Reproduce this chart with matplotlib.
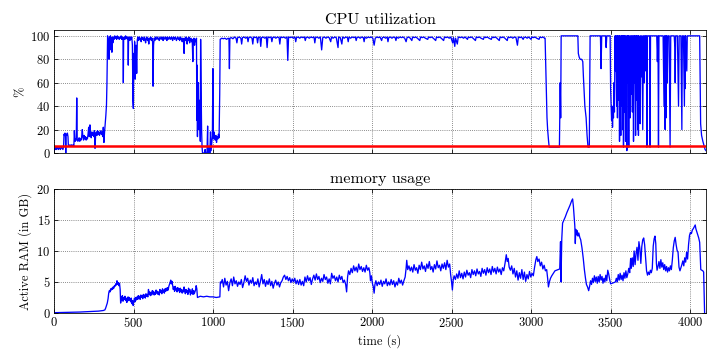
import numpy as np
import matplotlib
matplotlib.use("Agg")
import matplotlib.pyplot as plt

# CPU utilization (%) as (time s, value) pairs
cpu_start = [(0, 2), (4, 4), (8, 3), (12, 5), (16, 3), (20, 4), (24, 5), (28, 3), (32, 4), (36, 5),
             (40, 3), (44, 4), (48, 5), (52, 4), (56, 3), (60, 5), (63, 16), (66, 15), (69, 17),
             (72, 14), (74, 0), (76, 16), (80, 15), (84, 17), (88, 14), (90, 7), (95, 6), (100, 7),
             (105, 6), (110, 7), (115, 6), (120, 7), (125, 6)]
cpu_ramp = [(128, 19), (131, 11), (134, 10), (137, 12), (140, 11), (143, 47), (146, 12), (150, 10),
            (154, 11), (158, 13), (162, 10), (166, 12), (170, 11), (174, 14), (178, 20), (182, 13),
            (186, 11), (190, 15), (194, 12), (198, 14), (202, 11), (206, 13), (210, 12), (214, 16),
            (218, 22), (222, 14), (226, 24), (230, 16), (234, 13), (238, 18), (242, 15), (246, 17),
            (250, 14), (254, 19), (258, 4), (262, 16), (266, 18), (270, 15), (274, 19), (278, 16),
            (282, 18), (286, 15), (290, 17), (294, 19), (298, 16), (302, 18), (306, 14), (310, 22),
            (314, 9), (318, 18), (322, 25), (326, 32), (330, 41), (333, 60)]
cpu_busy1 = [(337, 100), (340, 85), (343, 97), (346, 80), (349, 99), (352, 88), (355, 100), (358, 90),
             (361, 98), (364, 86), (367, 99), (370, 94), (374, 99), (378, 97), (382, 100), (386, 98),
             (390, 99), (394, 97), (398, 100), (402, 98), (406, 99), (410, 97), (414, 99), (418, 98),
             (422, 100), (426, 97), (430, 99), (434, 98), (436, 60), (438, 98), (442, 99), (446, 97),
             (450, 100), (454, 98), (458, 99), (462, 97), (465, 99), (467, 75), (469, 98), (473, 99),
             (477, 96), (481, 99), (485, 97), (489, 99), (493, 92), (496, 45), (499, 38), (501, 85),
             (504, 65), (507, 95), (510, 63), (513, 70), (516, 92), (520, 68), (524, 97), (528, 99),
             (532, 96), (536, 99), (540, 97), (544, 98), (548, 95), (552, 99), (556, 97), (560, 98),
             (564, 96), (568, 99), (572, 97), (576, 94), (580, 98), (584, 99), (588, 96), (592, 98),
             (596, 93), (600, 98), (604, 97), (608, 99), (612, 96), (616, 98), (620, 95), (623, 57),
             (626, 92), (630, 98), (634, 96), (638, 99), (642, 97), (646, 98), (650, 99), (654, 97),
             (658, 98), (662, 96), (666, 99), (670, 98), (674, 97), (678, 99), (682, 98), (686, 96),
             (690, 99), (694, 98), (698, 97), (702, 99), (706, 98), (710, 96), (714, 99), (718, 98),
             (722, 97), (726, 99), (730, 98), (734, 97), (738, 99), (742, 98), (746, 96), (750, 99),
             (754, 98), (758, 97), (762, 99), (766, 98), (770, 96), (774, 98), (778, 99), (782, 97),
             (786, 98), (790, 96), (794, 99), (798, 97), (802, 98), (806, 95), (810, 98), (814, 97),
             (818, 85), (821, 98), (825, 96), (829, 99), (833, 97), (837, 93), (841, 98), (845, 96),
             (849, 99), (853, 94), (857, 97), (861, 98), (865, 95), (869, 97), (873, 78), (876, 96),
             (880, 98), (884, 92), (888, 97), (892, 95), (896, 98)]
cpu_stall = [(898, 28), (900, 75), (902, 14), (904, 55), (906, 40), (908, 60), (910, 30), (912, 20),
             (915, 45), (918, 25), (920, 10), (922, 97), (925, 60), (928, 20), (931, 5), (934, 0),
             (938, 0), (942, 0), (946, 0), (950, 3), (954, 0), (958, 0), (962, 0), (966, 23), (968, 0),
             (972, 0), (976, 5), (980, 0), (984, 18), (988, 2), (992, 8), (996, 15), (999, 72),
             (1002, 12), (1006, 18), (1010, 13), (1014, 11), (1018, 15), (1022, 9), (1026, 14),
             (1030, 12), (1034, 16), (1038, 13), (1042, 50)]
cpu_busy2 = [(1045, 97), (1055, 98), (1065, 97.5), (1075, 98), (1085, 97), (1095, 98), (1100, 97.5),
             (1103, 72), (1106, 98), (1115, 98.5), (1125, 97.5), (1135, 99), (1145, 98), (1150, 94),
             (1155, 98.5), (1165, 99), (1175, 98), (1180, 93), (1185, 98.5), (1195, 99), (1205, 98),
             (1215, 99), (1220, 95), (1225, 98.5), (1235, 99), (1245, 98), (1250, 93), (1255, 99),
             (1265, 98.5), (1275, 99), (1280, 94), (1285, 98.5), (1295, 99), (1300, 91), (1305, 98.5),
             (1315, 99), (1325, 98), (1335, 99), (1340, 90), (1345, 99), (1355, 98.5), (1365, 99),
             (1370, 95), (1375, 98.5), (1385, 99), (1395, 98), (1405, 99), (1415, 98.5), (1420, 93),
             (1425, 99), (1435, 98.5), (1445, 99), (1455, 98), (1465, 99), (1470, 79), (1475, 99),
             (1485, 98.5), (1495, 99), (1505, 98), (1515, 99), (1520, 95), (1525, 98.5), (1535, 99),
             (1545, 98), (1555, 99), (1565, 98.5), (1575, 99), (1580, 96), (1585, 98.5), (1595, 99),
             (1605, 98), (1615, 99), (1625, 98.5), (1635, 99), (1640, 94), (1645, 98.5), (1655, 99),
             (1665, 98), (1675, 99), (1683, 88), (1690, 98.5), (1700, 99), (1710, 98), (1720, 99),
             (1730, 98.5), (1740, 95), (1745, 99), (1755, 98), (1765, 99), (1775, 98.5), (1786, 90),
             (1790, 99), (1800, 98.5), (1810, 93), (1815, 99), (1825, 98), (1835, 99), (1845, 98.5),
             (1850, 95), (1855, 99), (1865, 98), (1875, 99), (1885, 98.5), (1895, 99), (1900, 96),
             (1905, 98.5), (1915, 99), (1925, 98), (1935, 99), (1945, 98.5), (1950, 95), (1955, 99),
             (1965, 98), (1975, 99), (1985, 98.5), (1995, 99), (2005, 98), (2013, 92), (2020, 98),
             (2030, 99), (2040, 98.5), (2050, 99), (2060, 96), (2065, 98.5), (2075, 99), (2085, 98),
             (2095, 99), (2100, 95), (2105, 98.5), (2115, 99), (2125, 98), (2135, 99), (2145, 98.5),
             (2150, 96), (2155, 99), (2165, 98), (2175, 99), (2185, 98.5), (2195, 99), (2205, 98),
             (2214, 95), (2220, 98.5), (2230, 99), (2240, 98), (2250, 96), (2255, 99), (2265, 98.5),
             (2275, 99), (2285, 98), (2300, 96), (2305, 99), (2315, 98.5), (2325, 99), (2335, 98),
             (2350, 97), (2355, 99), (2365, 98.5), (2375, 99), (2385, 98), (2400, 96), (2405, 99),
             (2415, 98.5), (2425, 99), (2435, 98), (2450, 96), (2455, 99), (2465, 98.5), (2475, 99),
             (2485, 98), (2495, 99), (2507, 94), (2512, 98.5), (2520, 91), (2525, 98), (2536, 93),
             (2542, 99), (2555, 98.5), (2565, 99), (2575, 98), (2585, 99), (2600, 97), (2605, 99),
             (2615, 98.5), (2625, 99), (2635, 98), (2650, 96), (2655, 99), (2665, 98.5), (2675, 99),
             (2685, 98), (2700, 97), (2705, 99), (2715, 98.5), (2725, 99), (2735, 98), (2750, 97),
             (2755, 99), (2765, 98.5), (2775, 99), (2785, 98), (2800, 96), (2805, 99), (2815, 98.5),
             (2825, 99), (2835, 98), (2850, 96), (2855, 99), (2865, 98.5), (2875, 99), (2885, 98),
             (2895, 99), (2905, 98.5), (2914, 92), (2920, 99), (2930, 98.5), (2940, 99), (2950, 97),
             (2955, 98.5), (2965, 99), (2975, 98), (2985, 99), (3000, 97), (3005, 99), (3015, 98.5),
             (3025, 99), (3035, 98), (3050, 97), (3055, 99), (3065, 98.5), (3075, 99), (3085, 98)]
cpu_end = [(3088, 98), (3095, 60), (3100, 30), (3104, 20), (3110, 10), (3114, 5), (3130, 5), (3150, 5),
           (3170, 5), (3178, 5), (3183, 60), (3186, 30), (3189, 100), (3220, 100), (3260, 100),
           (3294, 100), (3297, 85), (3302, 82), (3308, 80), (3318, 80), (3325, 78), (3329, 65),
           (3338, 40), (3346, 30), (3352, 15), (3358, 5), (3366, 5), (3371, 100), (3400, 100),
           (3436, 100), (3440, 72), (3444, 100), (3468, 100), (3472, 90), (3476, 100), (3497, 100),
           (3500, 55), (3503, 40), (3506, 28), (3509, 40), (3512, 22), (3515, 38), (3518, 30),
           (3521, 60), (3524, 35), (3528, 100), (3531, 70), (3534, 100), (3538, 40), (3541, 100),
           (3543, 30), (3546, 100), (3549, 45), (3553, 100), (3556, 10), (3559, 100), (3561, 55),
           (3564, 15), (3567, 100), (3570, 40), (3573, 100), (3576, 20), (3579, 100), (3581, 5),
           (3584, 100), (3587, 35), (3590, 100), (3594, 10), (3597, 100), (3600, 40), (3602, 2),
           (3605, 100), (3608, 60), (3611, 100), (3614, 5), (3617, 100), (3620, 70), (3623, 30),
           (3626, 100), (3630, 50), (3633, 100), (3637, 35), (3640, 100), (3644, 10), (3647, 100),
           (3650, 60), (3653, 100), (3657, 15), (3660, 100), (3663, 45), (3666, 100), (3670, 20),
           (3673, 100), (3675, 15), (3678, 100), (3682, 55), (3686, 25), (3689, 100), (3693, 65),
           (3697, 100), (3702, 20), (3706, 100), (3710, 60), (3714, 100), (3717, 70), (3720, 100),
           (3725, 100), (3728, 5), (3731, 100), (3740, 100), (3745, 100), (3748, 5), (3751, 100),
           (3760, 100), (3770, 100), (3780, 100), (3790, 100), (3794, 78), (3798, 100), (3801, 5),
           (3804, 100), (3815, 100), (3830, 100), (3836, 40), (3839, 100), (3843, 20), (3846, 100),
           (3849, 30), (3852, 100), (3856, 60), (3860, 100), (3868, 100), (3874, 5), (3878, 100),
           (3890, 100), (3900, 100), (3904, 90), (3906, 60), (3909, 100), (3915, 100), (3920, 100),
           (3927, 40), (3931, 100), (3936, 100), (3942, 100), (3948, 20), (3951, 100), (3958, 100),
           (3964, 40), (3967, 100), (3969, 55), (3972, 100), (3979, 70), (3982, 100), (3996, 100),
           (4030, 100), (4060, 100), (4063, 60), (4066, 25), (4072, 15), (4080, 10), (4088, 6),
           (4094, 3), (4100, 2)]
cpu_idle_level = 6.25

# Active RAM (GB)
mem_start = [(0, 0.05), (40, 0.08), (80, 0.1), (120, 0.12), (160, 0.15), (200, 0.2), (240, 0.25),
             (280, 0.3), (310, 0.4), (320, 0.5), (325, 0.8), (330, 1.2), (335, 1.6), (340, 2.3),
             (344, 3.2), (348, 3.6), (352, 3.4), (356, 3.9), (360, 3.7), (364, 4.0), (368, 3.8),
             (372, 4.2), (376, 4.0), (380, 4.4), (384, 4.3), (388, 4.7), (392, 4.5), (396, 5.2),
             (400, 4.6), (404, 4.9), (408, 4.4), (412, 4.8), (416, 3.8), (419, 1.6), (422, 2.6),
             (426, 2.0), (430, 2.8), (434, 1.9), (438, 2.5), (442, 2.2), (446, 2.7), (450, 2.0),
             (454, 2.4), (458, 1.7), (462, 2.3), (466, 2.6), (470, 2.0), (474, 2.5), (478, 2.2),
             (482, 1.8), (486, 2.4), (490, 1.5), (494, 2.0), (498, 1.2), (502, 1.9), (506, 2.4),
             (510, 1.8), (514, 2.5), (518, 2.1), (522, 2.6), (526, 2.2), (530, 2.8), (534, 2.3),
             (538, 2.7), (542, 2.2), (546, 2.9), (550, 2.5), (554, 2.8), (558, 2.3), (562, 3.0),
             (566, 2.6), (570, 2.9), (574, 2.4), (578, 3.1), (582, 2.7), (586, 3.0), (590, 2.6),
             (594, 3.8), (598, 3.0), (602, 3.4), (606, 2.8), (610, 3.3), (614, 2.9), (618, 3.6),
             (622, 3.1), (626, 3.5), (630, 2.9), (634, 3.3), (638, 3.0), (642, 3.7), (646, 3.2),
             (650, 3.5), (654, 3.0), (658, 3.4), (662, 2.9), (666, 3.8), (670, 3.3), (674, 3.6),
             (678, 3.1), (682, 3.9), (686, 3.4), (690, 3.7), (694, 3.2), (698, 3.9), (702, 3.5),
             (706, 4.0), (710, 3.6), (714, 4.1), (718, 3.7), (722, 4.3), (726, 4.6), (730, 4.9),
             (734, 5.3), (738, 4.7), (742, 5.1), (746, 4.5), (750, 3.8), (754, 4.2), (758, 3.5),
             (762, 4.3), (766, 3.7), (770, 4.0), (774, 3.4), (778, 4.1), (782, 3.6), (786, 3.9),
             (790, 3.3), (794, 4.0), (798, 3.5), (802, 3.8), (806, 3.2), (810, 3.7), (814, 3.4),
             (818, 4.2), (822, 3.5), (826, 3.1), (830, 3.8), (834, 3.3), (838, 3.6), (842, 3.0),
             (846, 4.0), (850, 3.4), (854, 3.8), (858, 2.9), (862, 3.5), (866, 3.2), (870, 3.9),
             (874, 3.0), (878, 3.6), (882, 3.1), (886, 3.4), (890, 3.7), (894, 4.4), (898, 3.9),
             (902, 2.5), (920, 2.7), (940, 2.6), (960, 2.7), (980, 2.6), (1000, 2.6), (1020, 2.5),
             (1043, 2.6)]
mem_mid = [(1046, 5.0), (1050, 4.8), (1058, 5.4), (1066, 4.2), (1074, 5.6), (1082, 4.5), (1090, 5.1),
           (1098, 3.6), (1106, 4.9), (1114, 5.5), (1122, 4.4), (1130, 5.8), (1138, 4.7), (1146, 5.2),
           (1154, 4.3), (1162, 5.0), (1170, 4.6), (1178, 5.4), (1186, 4.1), (1194, 4.9), (1202, 6.0),
           (1210, 5.1), (1218, 5.6), (1226, 4.5), (1234, 5.3), (1242, 4.8), (1250, 5.7), (1258, 4.4),
           (1266, 5.0), (1274, 4.6), (1282, 5.5), (1290, 4.2), (1298, 5.1), (1306, 6.2), (1314, 4.7),
           (1322, 5.4), (1330, 4.3), (1338, 5.2), (1346, 4.6), (1354, 5.5), (1362, 4.4), (1370, 5.1),
           (1378, 4.0), (1386, 4.8), (1394, 5.3), (1402, 4.5), (1410, 5.0), (1418, 4.2), (1426, 4.9),
           (1434, 5.2), (1442, 5.8), (1450, 6.1), (1458, 5.4), (1466, 5.9), (1474, 5.2), (1482, 5.7),
           (1490, 4.9), (1498, 5.5), (1506, 5.0), (1514, 5.6), (1522, 4.7), (1530, 5.3), (1538, 4.6),
           (1546, 5.4), (1554, 4.5), (1562, 5.1), (1570, 4.4), (1578, 5.8), (1586, 5.0), (1594, 6.0),
           (1602, 5.2), (1610, 5.7), (1618, 4.6), (1626, 5.5), (1634, 6.1), (1642, 5.3), (1650, 6.3),
           (1658, 5.4), (1666, 5.9), (1674, 4.9), (1682, 5.6), (1690, 5.1), (1698, 6.2), (1706, 5.4),
           (1714, 5.8), (1722, 4.8), (1730, 5.5), (1738, 4.7), (1746, 6.4), (1754, 5.6), (1762, 6.0),
           (1770, 5.2), (1778, 5.8), (1786, 5.0), (1794, 6.1), (1802, 5.4), (1810, 5.9), (1818, 4.9),
           (1826, 5.3), (1834, 4.6), (1840, 3.4), (1846, 5.8), (1852, 6.8), (1860, 6.2), (1868, 7.2),
           (1876, 6.5), (1884, 7.6), (1892, 6.8), (1900, 7.4), (1908, 6.6), (1916, 7.9), (1924, 7.0),
           (1932, 7.5), (1940, 6.7), (1948, 7.3), (1956, 6.6), (1964, 7.7), (1972, 6.9), (1980, 7.3),
           (1986, 6.5), (1990, 5.2), (1996, 6.0), (2002, 4.8), (2008, 4.2), (2013, 3.2), (2018, 4.6),
           (2024, 5.2), (2032, 4.4), (2040, 5.0), (2048, 4.6), (2056, 5.3), (2064, 4.3), (2072, 5.1),
           (2080, 4.7), (2088, 5.5), (2096, 4.4), (2104, 5.0), (2112, 4.5), (2120, 5.4), (2128, 4.6),
           (2136, 5.2), (2144, 4.2), (2152, 5.0), (2160, 4.5), (2168, 5.6), (2176, 4.8), (2184, 5.3),
           (2192, 4.5), (2200, 5.2), (2208, 5.8), (2214, 7.2), (2218, 8.5), (2224, 7.0), (2232, 7.6)]
mem_late = [(2240, 6.8), (2248, 7.4), (2256, 6.6), (2264, 7.8), (2272, 6.9), (2280, 7.3), (2288, 6.4),
            (2296, 7.7), (2304, 7.0), (2312, 8.2), (2320, 7.1), (2328, 7.6), (2336, 6.7), (2344, 7.9),
            (2352, 7.2), (2360, 8.3), (2368, 7.0), (2376, 7.5), (2384, 6.6), (2392, 7.8), (2400, 7.1),
            (2408, 8.4), (2416, 7.3), (2424, 7.7), (2432, 6.8), (2440, 7.9), (2448, 7.2), (2456, 8.1),
            (2464, 7.0), (2472, 8.5), (2480, 7.4), (2488, 7.9), (2494, 6.2), (2500, 5.0), (2505, 3.7),
            (2510, 5.3), (2516, 6.0), (2524, 5.4), (2532, 6.3), (2540, 5.6), (2548, 6.8), (2556, 5.7),
            (2564, 6.4), (2572, 5.5), (2580, 6.6), (2588, 5.8), (2596, 6.9), (2604, 6.1), (2612, 6.5),
            (2620, 5.7), (2628, 7.0), (2636, 6.2), (2644, 6.8), (2652, 6.0), (2660, 7.1), (2668, 6.3),
            (2676, 6.7), (2684, 5.9), (2692, 7.2), (2700, 6.4), (2708, 7.0), (2716, 6.1), (2724, 7.3),
            (2732, 6.5), (2740, 7.1), (2748, 6.2), (2756, 7.5), (2764, 6.6), (2772, 7.2), (2780, 6.3),
            (2788, 7.4), (2796, 6.6), (2804, 7.1), (2812, 6.2), (2820, 7.3), (2828, 6.8), (2836, 8.0),
            (2844, 9.4), (2850, 8.3), (2856, 8.8), (2862, 7.4), (2870, 6.9), (2878, 7.6), (2886, 6.3),
            (2894, 7.2), (2902, 5.8), (2910, 6.8), (2918, 5.3), (2926, 6.5), (2934, 5.6), (2942, 7.0),
            (2950, 5.4), (2958, 6.6), (2966, 5.1), (2974, 6.2), (2982, 5.5), (2990, 6.7), (2998, 5.8),
            (3006, 6.4), (3014, 6.0), (3022, 7.4), (3030, 8.6), (3036, 9.1), (3042, 8.3), (3050, 8.7),
            (3058, 7.6), (3066, 8.2), (3074, 7.1), (3082, 7.7), (3090, 6.8), (3098, 7.0), (3104, 5.6),
            (3109, 4.2), (3115, 5.0), (3122, 5.6), (3130, 6.0), (3140, 6.4), (3150, 6.8), (3160, 6.9),
            (3170, 7.0), (3180, 7.1)]
mem_end = [(3185, 11.5), (3188, 5.0), (3193, 12.0), (3198, 14.5), (3205, 14.9), (3215, 15.5),
           (3225, 16.2), (3235, 16.8), (3245, 17.4), (3255, 18.1), (3261, 18.4), (3266, 17.2),
           (3271, 15.5), (3275, 14.0), (3278, 11.2), (3281, 13.5), (3285, 12.6), (3290, 13.3),
           (3295, 12.4), (3300, 12.9), (3306, 12.2), (3312, 11.8), (3320, 10.5), (3328, 8.8),
           (3335, 7.0), (3342, 5.6), (3348, 4.6), (3355, 4.2), (3362, 3.6), (3368, 4.3), (3374, 5.2),
           (3380, 4.6), (3386, 5.6), (3392, 4.9), (3398, 6.0), (3404, 5.1), (3410, 5.8), (3416, 4.8),
           (3422, 5.9), (3428, 5.0), (3434, 6.2), (3440, 5.3), (3446, 5.9), (3452, 4.8), (3458, 5.6),
           (3464, 5.0), (3470, 6.1), (3476, 5.2), (3482, 6.9), (3488, 6.3), (3494, 5.4), (3500, 4.7),
           (3510, 4.8), (3520, 4.9), (3530, 5.0), (3536, 5.6), (3542, 5.0), (3548, 6.2), (3554, 5.3),
           (3560, 6.4), (3566, 5.4), (3572, 6.1), (3578, 5.2), (3584, 6.5), (3590, 5.6), (3596, 6.8),
           (3602, 5.7), (3608, 6.3), (3614, 7.2), (3620, 6.5), (3626, 8.8), (3630, 7.2), (3636, 8.9),
           (3642, 7.5), (3648, 10.0), (3654, 7.8), (3660, 9.6), (3666, 10.6), (3672, 8.5), (3678, 11.5),
           (3684, 10.4), (3690, 8.0), (3696, 10.7), (3702, 11.8), (3708, 12.1), (3714, 11.0), (3720, 9.0),
           (3726, 6.8), (3732, 6.1), (3738, 6.6), (3744, 6.2), (3750, 6.9), (3756, 6.5), (3762, 7.2),
           (3768, 10.8), (3774, 12.0), (3779, 12.4), (3784, 11.2), (3788, 8.0), (3792, 6.9), (3798, 7.5),
           (3804, 8.3), (3810, 7.2), (3816, 8.6), (3822, 7.4), (3828, 8.1), (3834, 7.0), (3840, 7.8),
           (3846, 6.8), (3852, 7.5), (3858, 6.6), (3864, 7.3), (3870, 6.8), (3876, 7.6), (3882, 7.0),
           (3888, 8.5), (3894, 10.5), (3900, 11.6), (3906, 12.2), (3912, 11.0), (3918, 10.1), (3924, 9.8),
           (3930, 7.4), (3936, 6.8), (3942, 7.3), (3948, 7.8), (3954, 8.4), (3960, 7.6), (3966, 8.9),
           (3972, 8.2), (3978, 9.8), (3984, 8.7), (3990, 11.0), (3996, 12.5), (4002, 13.0), (4008, 12.8),
           (4014, 13.4), (4020, 13.6), (4026, 13.9), (4032, 14.2), (4036, 13.6), (4042, 13.1),
           (4048, 12.6), (4054, 12.1), (4060, 11.4), (4064, 9.0), (4067, 7.0), (4074, 6.9), (4080, 6.8),
           (4085, 6.6), (4088, 3.0), (4091, 0.0)]

cpu = np.array(cpu_start + cpu_ramp + cpu_busy1 + cpu_stall + cpu_busy2 + cpu_end, dtype=float)
mem = np.array(mem_start + mem_mid + mem_late + mem_end, dtype=float)

plt.rcParams['font.family'] = 'cmr10'
plt.rcParams['axes.formatter.use_mathtext'] = True
plt.rcParams['xtick.direction'] = 'in'
plt.rcParams['ytick.direction'] = 'in'
plt.rcParams['xtick.top'] = True
plt.rcParams['ytick.right'] = True

fig = plt.figure(figsize=(10, 5), dpi=72)
ax1 = fig.add_axes([0.075, 0.575, 0.9056, 0.3417])
ax2 = fig.add_axes([0.075, 0.1306, 0.9056, 0.3444])

ax1.plot(cpu[:, 0], cpu[:, 1], color='b', lw=1.3)
ax1.axhline(cpu_idle_level, color='r', lw=2.5)
ax1.set_xlim(0, 4100)
ax1.set_ylim(0, 105)
ax1.set_yticks([0, 20, 40, 60, 80, 100])
ax1.set_xticks(np.arange(0, 4001, 500))
ax1.set_xticklabels([])
ax1.set_ylabel('%', fontsize=12.5)
ax1.set_title('CPU utilization', fontsize=16)

ax2.plot(mem[:, 0], mem[:, 1], color='b', lw=1.3)
ax2.set_xlim(0, 4100)
ax2.set_ylim(0, 20)
ax2.set_yticks([0, 5, 10, 15, 20])
ax2.set_xticks(np.arange(0, 4001, 500))
ax2.set_xlabel('time (s)', fontsize=12.5)
ax2.set_ylabel('Active RAM (in GB)', fontsize=12.5)
ax2.set_title('memory usage', fontsize=16)

for ax in (ax1, ax2):
    ax.grid(True, color='0.35', linestyle=':', lw=0.8)
    ax.tick_params(labelsize=12.5, length=4)

fig.savefig('out.png', dpi=72)
